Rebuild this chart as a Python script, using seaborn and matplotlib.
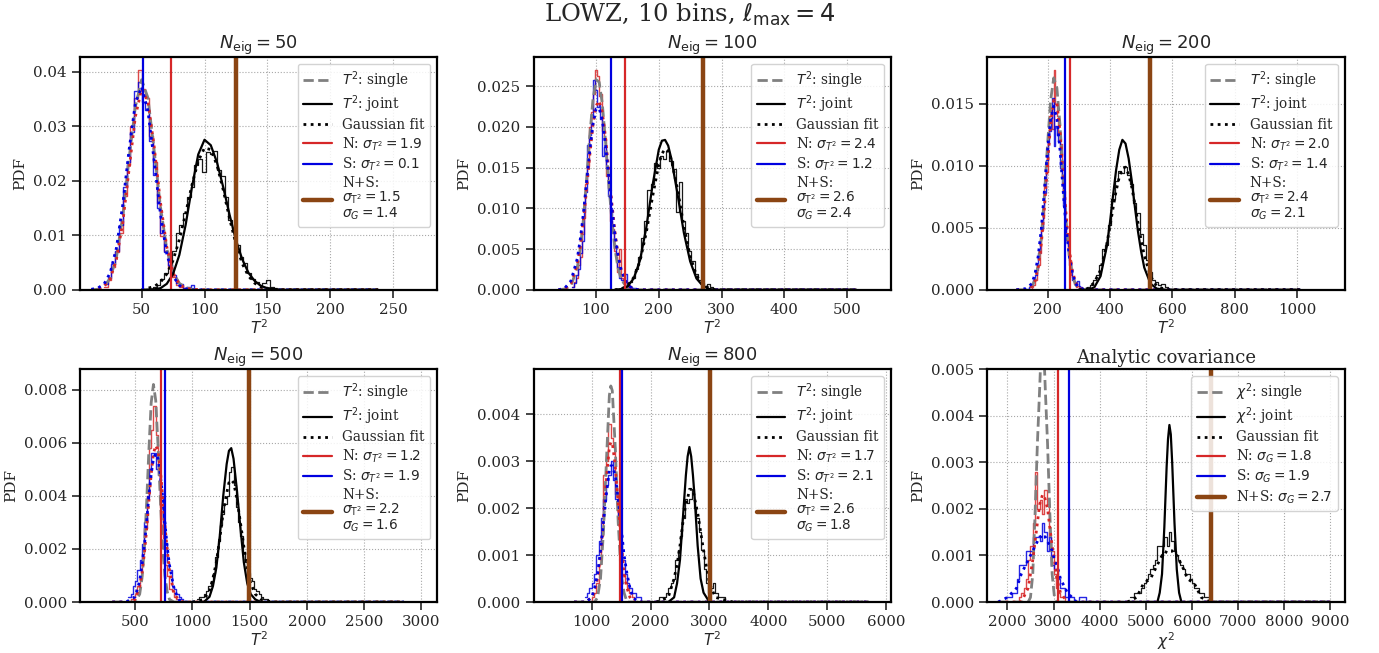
import numpy as np
import pandas as pd
import matplotlib
matplotlib.use("Agg")
import matplotlib.pyplot as plt
import seaborn as sns
from matplotlib.lines import Line2D
from matplotlib.ticker import FormatStrFormatter

# ---------------- data ----------------
# Panel 1: N_eig = 50
P1_XL = [10, 15, 20, 25, 30, 35, 40, 45, 50, 55, 60, 65, 70, 75, 80, 85, 90, 100, 238]
P1_GREY = [0.0, 0.0001, 0.0006, 0.0021, 0.0060, 0.0135, 0.0240, 0.0335, 0.0385, 0.0352, 0.0255, 0.0152, 0.0075, 0.0032, 0.0012, 0.0004, 0.0001, 0.0, 0.0]
P1_RFIT = [0.0, 0.0001, 0.0006, 0.0020, 0.0056, 0.0123, 0.0220, 0.0317, 0.0368, 0.0345, 0.0262, 0.0160, 0.0079, 0.0031, 0.0010, 0.0003, 0.0001, 0.0, 0.0]
P1_BFIT = [0.0001, 0.0003, 0.0010, 0.0031, 0.0077, 0.0156, 0.0256, 0.0342, 0.0372, 0.0328, 0.0236, 0.0138, 0.0066, 0.0025, 0.0008, 0.0002, 0.0, 0.0, 0.0]
P1_LBIN = (20, 3)
P1_RED = [0.0006, 0.0018, 0.0042, 0.0070, 0.0105, 0.0172, 0.0228, 0.0300, 0.0352, 0.0402, 0.0368, 0.0352, 0.0282, 0.0235, 0.0160, 0.0098, 0.0072, 0.0040, 0.0024, 0.0008, 0.0006, 0.0003, 0.0, 0.0, 0.0]
P1_BLUE = [0.0010, 0.0022, 0.0048, 0.0072, 0.0118, 0.0188, 0.0235, 0.0290, 0.0365, 0.0380, 0.0345, 0.0330, 0.0272, 0.0210, 0.0150, 0.0105, 0.0070, 0.0045, 0.0028, 0.0012, 0.0010, 0.0004, 0.0006, 0.0008, 0.0]
P1_XR = [50, 60, 65, 70, 75, 80, 85, 90, 95, 100, 105, 110, 115, 120, 125, 130, 135, 140, 145, 150, 160, 238]
P1_JOINT = [0.0, 0.0001, 0.0003, 0.0011, 0.0029, 0.0064, 0.0119, 0.0188, 0.0248, 0.0275, 0.0265, 0.0233, 0.0187, 0.0137, 0.0091, 0.0056, 0.0031, 0.0016, 0.0007, 0.0003, 0.0, 0.0]
P1_KFIT = [0.0, 0.0006, 0.0014, 0.0029, 0.0054, 0.0092, 0.0140, 0.0192, 0.0236, 0.0260, 0.0257, 0.0228, 0.0182, 0.0130, 0.0084, 0.0048, 0.0025, 0.0012, 0.0005, 0.0002, 0.0, 0.0]
P1_RBIN = (56, 3)
P1_BLACK = [0.0002, 0.0006, 0.0008, 0.0020, 0.0030, 0.0040, 0.0072, 0.0105, 0.0118, 0.0140, 0.0170, 0.0188, 0.0228, 0.0240, 0.0215, 0.0252, 0.0248, 0.0255, 0.0220, 0.0208, 0.0170, 0.0128, 0.0112, 0.0082, 0.0060, 0.0050, 0.0030, 0.0020, 0.0014, 0.0008, 0.0012, 0.0018, 0.0006, 0.0003, 0.0]
P1_VLINES = [73.2, 51.3, 124.7]
P1_SIG = ["1.9", "0.1", "1.5", "1.4"]

# Panel 2: N_eig = 100
P2_XL = [40, 50, 60, 70, 75, 80, 85, 90, 95, 100, 105, 110, 115, 120, 125, 130, 135, 140, 150, 160, 170, 515]
P2_GREY = [0.0, 0.0001, 0.0005, 0.0027, 0.0051, 0.0088, 0.0137, 0.0189, 0.0233, 0.0258, 0.0255, 0.0228, 0.0183, 0.0133, 0.0087, 0.0051, 0.0027, 0.0013, 0.0002, 0.0, 0.0, 0.0]
P2_RFIT = [0.0, 0.0001, 0.0008, 0.0031, 0.0054, 0.0086, 0.0124, 0.0165, 0.0202, 0.0226, 0.0232, 0.0218, 0.0188, 0.0149, 0.0108, 0.0072, 0.0044, 0.0025, 0.0006, 0.0001, 0.0, 0.0]
P2_BFIT = [0.0, 0.0002, 0.0011, 0.0038, 0.0063, 0.0095, 0.0133, 0.0171, 0.0203, 0.0222, 0.0223, 0.0208, 0.0178, 0.0140, 0.0102, 0.0068, 0.0042, 0.0024, 0.0006, 0.0001, 0.0, 0.0]
P2_LBIN = (62, 3)
P2_RED = [0.0003, 0.0010, 0.0014, 0.0030, 0.0040, 0.0068, 0.0088, 0.0130, 0.0152, 0.0200, 0.0218, 0.0240, 0.0270, 0.0262, 0.0238, 0.0240, 0.0195, 0.0185, 0.0140, 0.0125, 0.0085, 0.0075, 0.0048, 0.0040, 0.0022, 0.0050, 0.0015, 0.0010, 0.0005, 0.0003, 0.0002, 0.0, 0.0, 0.0, 0.0]
P2_BLUE = [0.0004, 0.0008, 0.0018, 0.0025, 0.0045, 0.0060, 0.0095, 0.0120, 0.0178, 0.0190, 0.0215, 0.0258, 0.0245, 0.0225, 0.0228, 0.0210, 0.0164, 0.0175, 0.0150, 0.0115, 0.0100, 0.0073, 0.0055, 0.0038, 0.0028, 0.0014, 0.0012, 0.0008, 0.0020, 0.0006, 0.0003, 0.0004, 0.0002, 0.0002, 0.0]
P2_XR = [130, 140, 150, 160, 170, 180, 190, 200, 205, 210, 215, 220, 230, 240, 250, 260, 270, 280, 290, 515]
P2_JOINT = [0.0, 0.0001, 0.0004, 0.0014, 0.0036, 0.0076, 0.0128, 0.0172, 0.0183, 0.0184, 0.0177, 0.0161, 0.0117, 0.0070, 0.0035, 0.0014, 0.0005, 0.0001, 0.0, 0.0]
P2_KFIT = [0.0, 0.0001, 0.0005, 0.0015, 0.0035, 0.0070, 0.0114, 0.0154, 0.0167, 0.0173, 0.0170, 0.0160, 0.0123, 0.0078, 0.0041, 0.0018, 0.0006, 0.0002, 0.0, 0.0]
P2_RBIN = (142, 5)
P2_BLACK = [0.0002, 0.0005, 0.0010, 0.0015, 0.0026, 0.0040, 0.0064, 0.0085, 0.0122, 0.0130, 0.0156, 0.0150, 0.0164, 0.0160, 0.0170, 0.0158, 0.0148, 0.0095, 0.0132, 0.0085, 0.0070, 0.0048, 0.0035, 0.0020, 0.0012, 0.0008, 0.0005, 0.0007, 0.0003, 0.0]
P2_VLINES = [145.7, 124.0, 270.7]
P2_SIG = ["2.4", "1.2", "2.6", "2.4"]

# Panel 3: N_eig = 200
P3_XL = [100, 130, 150, 160, 170, 180, 190, 200, 210, 220, 230, 240, 250, 260, 270, 280, 290, 300, 320, 340, 1010]
P3_GREY = [0.0, 0.0, 0.0003, 0.0008, 0.0020, 0.0042, 0.0076, 0.0117, 0.0153, 0.0171, 0.0163, 0.0133, 0.0092, 0.0054, 0.0027, 0.0012, 0.0004, 0.0001, 0.0, 0.0, 0.0]
P3_RFIT = [0.0, 0.0, 0.0003, 0.0007, 0.0018, 0.0037, 0.0066, 0.0101, 0.0134, 0.0153, 0.0151, 0.0128, 0.0094, 0.0059, 0.0032, 0.0015, 0.0006, 0.0002, 0.0, 0.0, 0.0]
P3_BFIT = [0.0, 0.0001, 0.0005, 0.0013, 0.0027, 0.0049, 0.0080, 0.0113, 0.0138, 0.0148, 0.0138, 0.0113, 0.0080, 0.0049, 0.0027, 0.0013, 0.0005, 0.0002, 0.0, 0.0, 0.0]
P3_LBIN = (130, 5)
P3_RED = [0.0, 0.0, 0.0, 0.0001, 0.0002, 0.0004, 0.0008, 0.0016, 0.0020, 0.0030, 0.0048, 0.0058, 0.0085, 0.0095, 0.0122, 0.0140, 0.0145, 0.0130, 0.0177, 0.0150, 0.0140, 0.0125, 0.0118, 0.0090, 0.0080, 0.0055, 0.0045, 0.0028, 0.0024, 0.0012, 0.0010, 0.0005, 0.0002, 0.0003, 0.0001, 0.0, 0.0, 0.0, 0.0, 0.0]
P3_BLUE = [0.0, 0.0001, 0.0002, 0.0003, 0.0005, 0.0008, 0.0012, 0.0018, 0.0030, 0.0040, 0.0050, 0.0068, 0.0078, 0.0105, 0.0118, 0.0128, 0.0139, 0.0155, 0.0116, 0.0132, 0.0125, 0.0120, 0.0098, 0.0085, 0.0068, 0.0050, 0.0040, 0.0035, 0.0020, 0.0015, 0.0008, 0.0006, 0.0004, 0.0007, 0.0003, 0.0002, 0.0, 0.0, 0.0, 0.0]
P3_XR = [300, 330, 350, 370, 390, 400, 410, 420, 430, 440, 450, 460, 470, 480, 490, 500, 510, 530, 550, 580, 1010]
P3_JOINT = [0.0, 0.0, 0.0002, 0.0011, 0.0035, 0.0054, 0.0076, 0.0097, 0.0113, 0.0121, 0.0118, 0.0106, 0.0088, 0.0067, 0.0047, 0.0031, 0.0018, 0.0005, 0.0001, 0.0, 0.0]
P3_KFIT = [0.0, 0.0001, 0.0006, 0.0016, 0.0037, 0.0051, 0.0066, 0.0080, 0.0091, 0.0098, 0.0099, 0.0093, 0.0083, 0.0069, 0.0054, 0.0040, 0.0028, 0.0011, 0.0003, 0.0, 0.0]
P3_RBIN = (325, 10)
P3_BLACK = [0.0002, 0.0004, 0.0008, 0.0012, 0.0020, 0.0033, 0.0036, 0.0052, 0.0073, 0.0088, 0.0096, 0.0094, 0.0099, 0.0093, 0.0085, 0.0070, 0.0062, 0.0045, 0.0036, 0.0024, 0.0014, 0.0008, 0.0006, 0.0004, 0.0005, 0.0002, 0.0001]
P3_VLINES = [272.9, 255.8, 528.0]
P3_SIG = ["2.0", "1.4", "2.4", "2.1"]

# Panel 4: N_eig = 500
P4_XL = [300, 420, 460, 500, 540, 560, 580, 600, 620, 640, 660, 680, 700, 720, 740, 760, 780, 800, 840, 880, 920, 2850]
P4_GREY = [0.0, 0.0, 0.0, 0.0, 0.0003, 0.0009, 0.0020, 0.0037, 0.0057, 0.0075, 0.0082, 0.0076, 0.0059, 0.0039, 0.0021, 0.0010, 0.0004, 0.0001, 0.0, 0.0, 0.0, 0.0]
P4_RFIT = [0.0, 0.0, 0.0, 0.0001, 0.0006, 0.0011, 0.0018, 0.0027, 0.0038, 0.0048, 0.0056, 0.0059, 0.0057, 0.0050, 0.0040, 0.0029, 0.0020, 0.0012, 0.0003, 0.0001, 0.0, 0.0]
P4_BFIT = [0.0, 0.0, 0.0001, 0.0002, 0.0008, 0.0014, 0.0021, 0.0030, 0.0040, 0.0048, 0.0054, 0.0056, 0.0054, 0.0048, 0.0040, 0.0030, 0.0021, 0.0014, 0.0005, 0.0001, 0.0, 0.0]
P4_LBIN = (440, 20)
P4_RED = [0.0, 0.0001, 0.0002, 0.0003, 0.0006, 0.0010, 0.0018, 0.0028, 0.0040, 0.0058, 0.0065, 0.0074, 0.0063, 0.0050, 0.0036, 0.0024, 0.0014, 0.0010, 0.0005, 0.0004, 0.0002, 0.0001, 0.0, 0.0, 0.0]
P4_BLUE = [0.0002, 0.0003, 0.0006, 0.0008, 0.0012, 0.0016, 0.0022, 0.0030, 0.0040, 0.0050, 0.0056, 0.0056, 0.0050, 0.0048, 0.0040, 0.0030, 0.0022, 0.0015, 0.0012, 0.0006, 0.0005, 0.0003, 0.0002, 0.0001, 0.0]
P4_XR = [1000, 1100, 1150, 1180, 1210, 1240, 1270, 1300, 1320, 1340, 1360, 1390, 1420, 1450, 1480, 1510, 1550, 1600, 1700, 2850]
P4_JOINT = [0.0, 0.0, 0.0002, 0.0006, 0.0013, 0.0025, 0.0040, 0.0052, 0.0057, 0.0058, 0.0054, 0.0042, 0.0028, 0.0015, 0.0007, 0.0003, 0.0001, 0.0, 0.0, 0.0]
P4_KFIT = [0.0, 0.0001, 0.0004, 0.0009, 0.0015, 0.0024, 0.0034, 0.0041, 0.0045, 0.0046, 0.0045, 0.0039, 0.0030, 0.0021, 0.0013, 0.0007, 0.0003, 0.0001, 0.0, 0.0]
P4_RBIN = (1040, 20)
P4_BLACK = [0.0001, 0.0002, 0.0002, 0.0003, 0.0004, 0.0006, 0.0008, 0.0011, 0.0017, 0.0023, 0.0029, 0.0033, 0.0037, 0.0040, 0.0049, 0.0051, 0.0044, 0.0036, 0.0030, 0.0025, 0.0019, 0.0015, 0.0011, 0.0009, 0.0008, 0.0005, 0.0004, 0.0003, 0.0002, 0.0001, 0.0001, 0.0, 0.0]
P4_VLINES = [728.0, 763.0, 1494.0]
P4_SIG = ["1.2", "1.9", "2.2", "1.6"]

# Panel 5: N_eig = 800
P5_XL = [700, 900, 1000, 1050, 1100, 1150, 1200, 1250, 1300, 1325, 1350, 1400, 1450, 1500, 1550, 1600, 1650, 1700, 1800, 1900, 5700]
P5_GREY = [0.0, 0.0, 0.0, 0.0, 0.0001, 0.0005, 0.0015, 0.0030, 0.0044, 0.0046, 0.0045, 0.0033, 0.0017, 0.0006, 0.0002, 0.0, 0.0, 0.0, 0.0, 0.0, 0.0]
P5_RFIT = [0.0, 0.0, 0.0001, 0.0002, 0.0005, 0.0010, 0.0018, 0.0026, 0.0033, 0.0034, 0.0034, 0.0029, 0.0021, 0.0013, 0.0006, 0.0003, 0.0001, 0.0, 0.0, 0.0, 0.0]
P5_BFIT = [0.0, 0.0, 0.0001, 0.0003, 0.0006, 0.0011, 0.0017, 0.0023, 0.0028, 0.0029, 0.0029, 0.0027, 0.0022, 0.0016, 0.0010, 0.0006, 0.0003, 0.0001, 0.0, 0.0, 0.0]
P5_LBIN = (880, 40)
P5_RED = [0.0, 0.0, 0.0, 0.0001, 0.0002, 0.0004, 0.0008, 0.0014, 0.0027, 0.0030, 0.0038, 0.0035, 0.0033, 0.0023, 0.0018, 0.0011, 0.0006, 0.0004, 0.0003, 0.0002, 0.0001, 0.0, 0.0, 0.0, 0.0, 0.0]
P5_BLUE = [0.0001, 0.0002, 0.0003, 0.0004, 0.0006, 0.0010, 0.0013, 0.0018, 0.0022, 0.0025, 0.0027, 0.0030, 0.0026, 0.0022, 0.0017, 0.0013, 0.0009, 0.0006, 0.0004, 0.0003, 0.0002, 0.0002, 0.0001, 0.0001, 0.0, 0.0]
P5_XR = [2100, 2300, 2400, 2450, 2500, 2550, 2600, 2630, 2660, 2690, 2720, 2750, 2800, 2850, 2900, 3000, 3100, 3400, 5700]
P5_JOINT = [0.0, 0.0, 0.0001, 0.0004, 0.0009, 0.0018, 0.0027, 0.0031, 0.0033, 0.0031, 0.0027, 0.0022, 0.0012, 0.0005, 0.0002, 0.0, 0.0, 0.0, 0.0]
P5_KFIT = [0.0, 0.0001, 0.0005, 0.0008, 0.0012, 0.0017, 0.0021, 0.0022, 0.0024, 0.0024, 0.0024, 0.0022, 0.0019, 0.0015, 0.0011, 0.0004, 0.0001, 0.0, 0.0]
P5_RBIN = (2100, 40)
P5_BLACK = [0.0, 0.0001, 0.0001, 0.0001, 0.0002, 0.0003, 0.0004, 0.0005, 0.0009, 0.0011, 0.0014, 0.0018, 0.0022, 0.0021, 0.0022, 0.0024, 0.0020, 0.0018, 0.0015, 0.0011, 0.0007, 0.0004, 0.0002, 0.0003, 0.0004, 0.0002, 0.0001, 0.0001, 0.0001, 0.0, 0.0, 0.0, 0.0]
P5_VLINES = [1487.0, 1521.0, 3006.0]
P5_SIG = ["1.7", "2.1", "2.6", "1.8"]

# Panel 6: analytic covariance
P6_XL = [1800, 2000, 2200, 2300, 2400, 2450, 2500, 2550, 2600, 2650, 2700, 2730, 2760, 2790, 2820, 2870, 2920, 2970, 3020, 3070, 3150, 3300, 3500, 3800, 9000]
P6_GREY = [0.0, 0.0, 0.0, 0.0, 0.0, 0.0, 0.0001, 0.0006, 0.0019, 0.0034, 0.0046, 0.0054, 0.0060, 0.0054, 0.0046, 0.0034, 0.0019, 0.0006, 0.0001, 0.0, 0.0, 0.0, 0.0, 0.0, 0.0]
P6_RFIT = [0.0, 0.0, 0.0, 0.0, 0.0002, 0.0003, 0.0006, 0.0009, 0.0013, 0.0017, 0.0021, 0.0022, 0.0023, 0.0023, 0.0022, 0.0020, 0.0016, 0.0012, 0.0009, 0.0005, 0.0002, 0.0, 0.0, 0.0, 0.0]
P6_BFIT = [0.0, 0.0001, 0.0003, 0.0006, 0.0008, 0.0009, 0.0010, 0.0011, 0.0012, 0.0013, 0.0014, 0.0014, 0.00145, 0.0014, 0.0014, 0.0013, 0.0012, 0.0011, 0.0009, 0.0008, 0.0005, 0.0002, 0.0, 0.0, 0.0]
P6_LBIN = (2000, 50)
P6_RED = [0.0, 0.0, 0.0, 0.0, 0.0, 0.0001, 0.0002, 0.0003, 0.0005, 0.0009, 0.0012, 0.0017, 0.0028, 0.0020, 0.0022, 0.0019, 0.0024, 0.0021, 0.0014, 0.0011, 0.0006, 0.0003, 0.0002, 0.0001, 0.0001, 0.0, 0.0, 0.0, 0.0, 0.0, 0.0, 0.0, 0.0, 0.0, 0.0]
P6_BLUE = [0.0001, 0.0001, 0.0002, 0.0002, 0.0005, 0.0008, 0.0008, 0.0008, 0.0011, 0.0011, 0.0011, 0.0014, 0.0014, 0.0014, 0.0013, 0.0017, 0.0015, 0.0011, 0.0014, 0.0008, 0.0007, 0.0007, 0.0005, 0.0003, 0.0003, 0.0001, 0.0001, 0.0001, 0.0001, 0.0, 0.0, 0.0001, 0.0001, 0.0001, 0.0]
P6_XR = [4600, 4800, 4950, 5100, 5200, 5250, 5300, 5350, 5400, 5450, 5480, 5510, 5540, 5570, 5620, 5670, 5720, 5770, 5820, 5900, 6050, 6200, 6400, 9000]
P6_JOINT = [0.0, 0.0, 0.0, 0.0, 0.0, 0.0, 0.0002, 0.0006, 0.0016, 0.0029, 0.0035, 0.0038, 0.0036, 0.0030, 0.0017, 0.0007, 0.0002, 0.0, 0.0, 0.0, 0.0, 0.0, 0.0, 0.0]
P6_KFIT = [0.0, 0.0001, 0.0004, 0.0005, 0.0007, 0.0008, 0.0009, 0.0010, 0.0010, 0.0011, 0.0011, 0.0011, 0.0011, 0.0011, 0.0010, 0.0010, 0.0009, 0.0008, 0.0007, 0.0005, 0.0004, 0.0001, 0.0, 0.0]
P6_RBIN = (4650, 50)
P6_BLACK = [0.0001, 0.0001, 0.0002, 0.0002, 0.0002, 0.0003, 0.0004, 0.0005, 0.0006, 0.0007, 0.0008, 0.0009, 0.0012, 0.0012, 0.0012, 0.0014, 0.0012, 0.0015, 0.0013, 0.0011, 0.0010, 0.0009, 0.0008, 0.0007, 0.0006, 0.0006, 0.0005, 0.0004, 0.0003, 0.0003, 0.0002, 0.0002, 0.0001, 0.0001, 0.0001, 0.0]
P6_VLINES = [3087.0, 3326.0, 6420.0]
P6_SIG = ["1.8", "1.9", "2.7"]

TITLES = [r"$N_{\rm eig}=50$", r"$N_{\rm eig}=100$", r"$N_{\rm eig}=200$",
          r"$N_{\rm eig}=500$", r"$N_{\rm eig}=800$", "Analytic covariance"]

# ---------------- style ----------------
sns.set_theme(style="ticks")
plt.rcParams["font.family"] = ["DejaVu Serif"]
plt.rcParams["mathtext.fontset"] = "dejavusans"

RED = "#d62728"
BLUE = "#0000e0"
BROWN = "#8b4513"
GREY = "grey"

fig, axes = plt.subplots(2, 3, figsize=(13.79, 6.53), dpi=100)
fig.subplots_adjust(left=0.058, right=0.975, top=0.913, bottom=0.078,
                    wspace=0.27, hspace=0.34)

panels = [
    dict(XL=P1_XL, GREY=P1_GREY, RFIT=P1_RFIT, BFIT=P1_BFIT, LBIN=P1_LBIN, RED=P1_RED, BLUE=P1_BLUE,
         XR=P1_XR, JOINT=P1_JOINT, KFIT=P1_KFIT, RBIN=P1_RBIN, BLACK=P1_BLACK, V=P1_VLINES, SIG=P1_SIG,
         xlim=(1, 285), ylim=(0, 0.0427), xt=[50, 100, 150, 200, 250], yt=[0, 0.01, 0.02, 0.03, 0.04], fmt="%.2f"),
    dict(XL=P2_XL, GREY=P2_GREY, RFIT=P2_RFIT, BFIT=P2_BFIT, LBIN=P2_LBIN, RED=P2_RED, BLUE=P2_BLUE,
         XR=P2_XR, JOINT=P2_JOINT, KFIT=P2_KFIT, RBIN=P2_RBIN, BLACK=P2_BLACK, V=P2_VLINES, SIG=P2_SIG,
         xlim=(0.5, 570), ylim=(0, 0.0286), xt=[100, 200, 300, 400, 500], yt=[0, 0.005, 0.01, 0.015, 0.02, 0.025], fmt="%.3f"),
    dict(XL=P3_XL, GREY=P3_GREY, RFIT=P3_RFIT, BFIT=P3_BFIT, LBIN=P3_LBIN, RED=P3_RED, BLUE=P3_BLUE,
         XR=P3_XR, JOINT=P3_JOINT, KFIT=P3_KFIT, RBIN=P3_RBIN, BLACK=P3_BLACK, V=P3_VLINES, SIG=P3_SIG,
         xlim=(7, 1152), ylim=(0, 0.0188), xt=[200, 400, 600, 800, 1000], yt=[0, 0.005, 0.01, 0.015], fmt="%.3f"),
    dict(XL=P4_XL, GREY=P4_GREY, RFIT=P4_RFIT, BFIT=P4_BFIT, LBIN=P4_LBIN, RED=P4_RED, BLUE=P4_BLUE,
         XR=P4_XR, JOINT=P4_JOINT, KFIT=P4_KFIT, RBIN=P4_RBIN, BLACK=P4_BLACK, V=P4_VLINES, SIG=P4_SIG,
         xlim=(18, 3140), ylim=(0, 0.00878), xt=[500, 1000, 1500, 2000, 2500, 3000], yt=[0, 0.002, 0.004, 0.006, 0.008], fmt="%.3f"),
    dict(XL=P5_XL, GREY=P5_GREY, RFIT=P5_RFIT, BFIT=P5_BFIT, LBIN=P5_LBIN, RED=P5_RED, BLUE=P5_BLUE,
         XR=P5_XR, JOINT=P5_JOINT, KFIT=P5_KFIT, RBIN=P5_RBIN, BLACK=P5_BLACK, V=P5_VLINES, SIG=P5_SIG,
         xlim=(14, 6082), ylim=(0, 0.00496), xt=[1000, 2000, 3000, 4000, 5000, 6000], yt=[0, 0.001, 0.002, 0.003, 0.004], fmt="%.3f"),
    dict(XL=P6_XL, GREY=P6_GREY, RFIT=P6_RFIT, BFIT=P6_BFIT, LBIN=P6_LBIN, RED=P6_RED, BLUE=P6_BLUE,
         XR=P6_XR, JOINT=P6_JOINT, KFIT=P6_KFIT, RBIN=P6_RBIN, BLACK=P6_BLACK, V=P6_VLINES, SIG=P6_SIG,
         xlim=(1565, 9304), ylim=(0, 0.005), xt=list(range(2000, 9001, 1000)), yt=[0, 0.001, 0.002, 0.003, 0.004, 0.005], fmt="%.3f"),
]


def hist_step(ax, binspec, heights, color, lw=1.0, alpha=1.0):
    lo, w = binspec
    n = len(heights)
    edges = [float(lo + w * k) for k in range(n + 1)]
    df = pd.DataFrame({"c": [lo + w * (k + 0.5) for k in range(n)], "h": heights})
    sns.histplot(data=df, x="c", weights="h", bins=edges, element="step", fill=False,
                 color=color, linewidth=lw, alpha=alpha, ax=ax)


DOT = (0, (1, 1.6))

for i, (ax, p) in enumerate(zip(axes.flat, panels)):
    ax.grid(True, linestyle=":", color="#a8a8a8", linewidth=0.8)
    ax.set_axisbelow(True)
    # histograms
    hist_step(ax, p["LBIN"], p["RED"], RED, lw=1.0, alpha=0.85)
    hist_step(ax, p["LBIN"], p["BLUE"], BLUE, lw=1.0, alpha=0.85)
    hist_step(ax, p["RBIN"], p["BLACK"], "black", lw=0.9, alpha=0.9)
    # curves
    sns.lineplot(x=p["XL"], y=p["GREY"], color=GREY, linestyle="--", linewidth=2.0,
                 estimator=None, sort=False, ax=ax)
    sns.lineplot(x=p["XL"], y=p["RFIT"], color=RED, linestyle=DOT, linewidth=2.0,
                 estimator=None, sort=False, ax=ax)
    sns.lineplot(x=p["XL"], y=p["BFIT"], color=BLUE, linestyle=DOT, linewidth=2.0,
                 estimator=None, sort=False, ax=ax)
    sns.lineplot(x=p["XR"], y=p["JOINT"], color="black", linestyle="-", linewidth=1.6,
                 estimator=None, sort=False, ax=ax)
    sns.lineplot(x=p["XR"], y=p["KFIT"], color="black", linestyle=DOT, linewidth=2.0,
                 estimator=None, sort=False, ax=ax)
    # vertical lines
    ax.axvline(p["V"][0], color=RED, linewidth=1.6)
    ax.axvline(p["V"][1], color=BLUE, linewidth=1.6)
    ax.axvline(p["V"][2], color=BROWN, linewidth=3.2)

    ax.set_xlim(*p["xlim"])
    ax.set_ylim(*p["ylim"])
    ax.set_xticks(p["xt"])
    ax.set_yticks(p["yt"])
    ax.yaxis.set_major_formatter(FormatStrFormatter(p["fmt"]))
    ax.tick_params(axis="both", direction="out", length=6, width=1.2, labelsize=10.8)
    for s in ax.spines.values():
        s.set_linewidth(1.6)
        s.set_color("black")
    ax.set_title(TITLES[i], fontsize=13, pad=4)
    ax.set_ylabel("PDF", fontsize=11)

    sig = p["SIG"]
    if i < 5:
        ax.set_xlabel(r"$T^2$", fontsize=11, labelpad=1)
        labels = [r"$T^2$: single", r"$T^2$: joint", "Gaussian fit",
                  r"N: $\sigma_{T^2}=" + sig[0] + "$",
                  r"S: $\sigma_{T^2}=" + sig[1] + "$",
                  "N+S:\n" + r"$\sigma_{\rm T^2}=" + sig[2] + "$" + "\n" + r"$\sigma_G=" + sig[3] + "$"]
    else:
        ax.set_xlabel(r"$\chi^2$", fontsize=11, labelpad=1)
        labels = [r"$\chi^2$: single", r"$\chi^2$: joint", "Gaussian fit",
                  r"N: $\sigma_G=" + sig[0] + "$",
                  r"S: $\sigma_G=" + sig[1] + "$",
                  r"N+S: $\sigma_G=" + sig[2] + "$"]
    handles = [Line2D([], [], color=GREY, linestyle="--", linewidth=2.0),
               Line2D([], [], color="black", linestyle="-", linewidth=1.6),
               Line2D([], [], color="black", linestyle=DOT, linewidth=2.0),
               Line2D([], [], color=RED, linewidth=1.6),
               Line2D([], [], color=BLUE, linewidth=1.6),
               Line2D([], [], color=BROWN, linewidth=3.2)]
    leg = ax.legend(handles, labels, loc="upper right", fontsize=9.8, frameon=True,
                    framealpha=0.85, edgecolor="#cccccc", fancybox=True,
                    handlelength=2.1, borderaxespad=0.5, labelspacing=0.22)
    for t in leg.get_texts():
        t.set_linespacing(0.95)

fig.suptitle(r"LOWZ, 10 bins, $\ell_{\rm max}=4$", fontsize=17.5, y=0.997, va="top")
fig.savefig("out.png", dpi=100)
